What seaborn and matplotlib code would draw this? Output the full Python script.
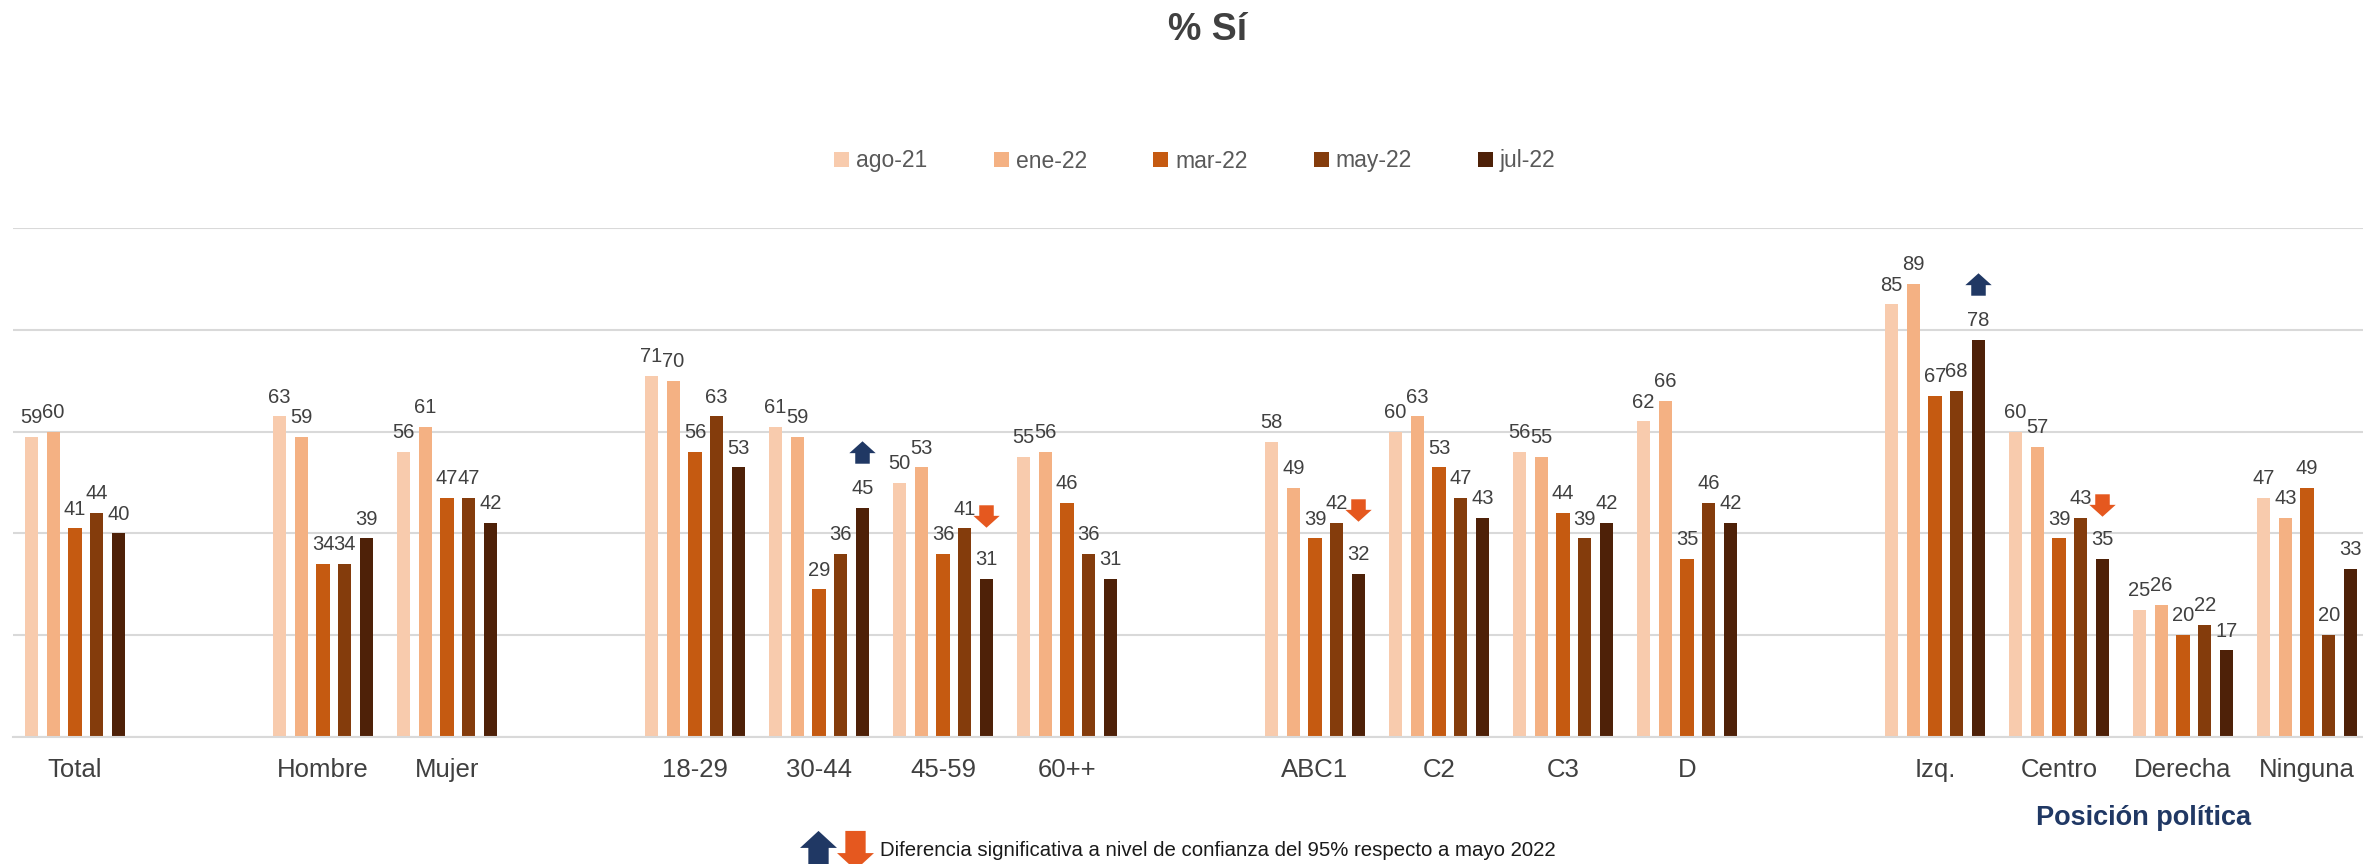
import numpy as np
import pandas as pd
import matplotlib.pyplot as plt
from matplotlib.path import Path
from matplotlib.lines import Line2D
import seaborn as sns

# Datos (% Si)
categorias = ["Total", "Hombre", "Mujer", "18-29", "30-44", "45-59", "60++",
              "ABC1", "C2", "C3", "D", "Izq.", "Centro", "Derecha", "Ninguna"]
periodos = ["ago-21", "ene-22", "mar-22", "may-22", "jul-22"]
ago21 = [59, 63, 56, 71, 61, 50, 55, 58, 60, 56, 62, 85, 60, 25, 47]
ene22 = [60, 59, 61, 70, 59, 53, 56, 49, 63, 55, 66, 89, 57, 26, 43]
mar22 = [41, 34, 47, 56, 29, 36, 46, 39, 53, 44, 35, 67, 39, 20, 49]
may22 = [44, 34, 47, 63, 36, 41, 36, 42, 47, 39, 46, 68, 43, 22, 20]
jul22 = [40, 39, 42, 53, 45, 31, 31, 32, 43, 42, 42, 78, 35, 17, 33]

# diferencias significativas respecto a mayo 2022
sube = ["30-44", "Izq."]
baja = ["45-59", "ABC1", "Centro"]

# orden del eje x con huecos entre bloques
orden = ["Total", "_1", "Hombre", "Mujer", "_2", "18-29", "30-44", "45-59", "60++", "_3",
         "ABC1", "C2", "C3", "D", "_4", "Izq.", "Centro", "Derecha", "Ninguna"]

colores = ["#F8CBAD", "#F4B183", "#C55A11", "#843C0C", "#4E2108"]
azul = "#203864"
naranjo = "#E5581F"
gris = "#404040"

df = pd.DataFrame({"grupo": categorias, "ago-21": ago21, "ene-22": ene22,
                   "mar-22": mar22, "may-22": may22, "jul-22": jul22})
df = df.melt(id_vars="grupo", var_name="periodo", value_name="valor")

sns.set_style("white")
plt.rcParams["font.family"] = ["Liberation Sans", "DejaVu Sans"]

W, H = 2363, 864
fig = plt.figure(figsize=(W / 100, H / 100), dpi=100)
ax = fig.add_axes([13 / W, (H - 737) / H, 2356 / W, 509 / H])

sns.barplot(data=df, x="grupo", y="valor", hue="periodo", order=orden,
            hue_order=periodos, palette=dict(zip(periodos, colores)),
            saturation=1, width=0.875, gap=0.4, linewidth=0, ax=ax)

for c in ax.containers:
    ax.bar_label(c, padding=7, fontsize=14.5, color=gris)

ax.set_yticks(range(0, 101, 20))
ax.yaxis.grid(True, color="#D9D9D9", lw=1.5)
ax.set_axisbelow(True)
ax.tick_params(axis="y", left=False, labelleft=False)
ax.set_xticks(range(len(orden)))
ax.set_xticklabels(["" if o.startswith("_") else o for o in orden])
ax.tick_params(axis="x", length=0, pad=15, labelsize=18.5, labelcolor=gris)
ax.set_xlabel("")
ax.set_ylabel("")
for s in ["left", "right", "top"]:
    ax.spines[s].set_visible(False)
ax.spines["bottom"].set_color("#D9D9D9")
ax.spines["bottom"].set_linewidth(1.5)


def flecha(cuerpo=0.8, cabeza=0.9, ancho=0.55, abajo=False):
    y0 = -(cuerpo + cabeza) / 2
    yb = y0 + cuerpo
    v = [(-ancho, y0), (ancho, y0), (ancho, yb), (1, yb), (0, yb + cabeza),
         (-1, yb), (-ancho, yb), (-ancho, y0)]
    if abajo:
        v = [(x, -y) for x, y in v]
    return Path(v, closed=True)


# posiciones de las barras de jul-22 segun el eje
x_jul = {}
for p in ax.containers[4].patches:
    xc = p.get_x() + p.get_width() / 2
    x_jul[orden[int(np.floor(xc + 0.5))]] = xc

for g in sube:
    i = categorias.index(g)
    ax.plot([x_jul[g]], [jul22[i] + 11], ls="none", marker=flecha(), ms=19,
            mew=0, color=azul, clip_on=False)
for g in baja:
    i = categorias.index(g)
    ax.plot([x_jul[g]], [may22[i] + 2.5], ls="none", marker=flecha(abajo=True),
            ms=19, mew=0, color=naranjo, clip_on=False)

# fijar limites despues de dibujar las flechas
ax.set_xlim(-0.5, len(orden) - 0.5)
ax.set_ylim(0, 100)

sns.move_legend(ax, loc="center", bbox_to_anchor=(1195 / W, 1 - 161 / H),
                bbox_transform=fig.transFigure, ncol=5, frameon=False, title=None,
                fontsize=16.5, handlelength=0.65, handleheight=0.65,
                handletextpad=0.3, columnspacing=2.9, labelcolor="#595959")

fig.text(1208 / W, 1 - 30 / H, "% Sí", fontsize=27, weight="bold", color=gris,
         ha="center", va="center")
fig.text(2144 / W, 1 - 818 / H, "Posición política", fontsize=19.5,
         weight="bold", color=azul, ha="center", va="center")

# nota al pie
fig.add_artist(Line2D([817.5 / W], [1 - 850 / H], ls="none",
                      marker=flecha(cuerpo=1.2, cabeza=0.92), ms=28.2, mew=0,
                      color=azul, transform=fig.transFigure))
fig.add_artist(Line2D([855 / W], [1 - 850 / H], ls="none",
                      marker=flecha(cuerpo=1.2, cabeza=0.92, abajo=True), ms=28.2,
                      mew=0, color=naranjo, transform=fig.transFigure))
fig.text(880 / W, 1 - 850 / H,
         "Diferencia significativa a nivel de confianza del 95% respecto a mayo 2022",
         fontsize=14.7, color="#1a1a1a", ha="left", va="center")

fig.savefig("out.png", dpi=100)
